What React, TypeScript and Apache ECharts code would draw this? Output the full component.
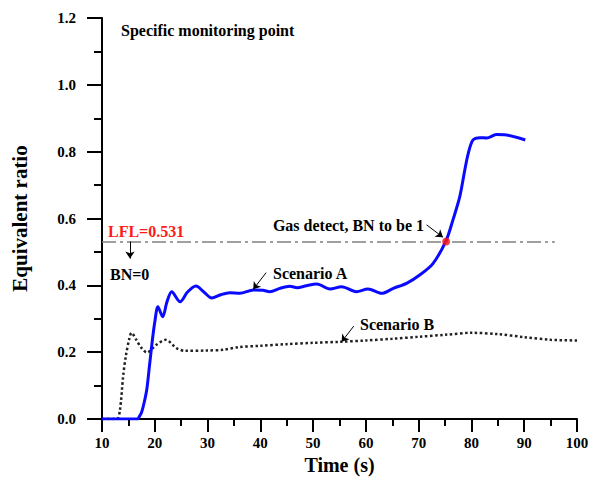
import React, { useEffect, useRef } from "react";
import * as echarts from "echarts";

const FONT = "Liberation Serif";

const scenarioAX = [10, 16.8, 17.0, 17.5, 18.0, 18.5, 19.0, 19.5, 20.0, 20.6, 21.5, 22.3, 23.2, 24.8, 26.2, 27.8, 29.3, 30.8, 32.5, 34.2, 36.1, 38.7, 40.5, 41.8, 43.7, 45.6, 47.0, 48.5, 50.7, 53.2, 55.4, 58.2, 60.4, 63.0, 65.2, 67.7, 70.2, 72.7, 75.2, 76.5, 77.8, 78.75, 79.4, 80.3, 81.6, 82.9, 84.7, 86.6, 90.2];
const scenarioAY = [0, 0, 0.005, 0.02, 0.05, 0.09, 0.16, 0.23, 0.29, 0.336, 0.306, 0.35, 0.381, 0.351, 0.38, 0.398, 0.38, 0.362, 0.372, 0.378, 0.376, 0.386, 0.385, 0.381, 0.391, 0.397, 0.393, 0.398, 0.404, 0.389, 0.396, 0.381, 0.389, 0.376, 0.391, 0.406, 0.431, 0.465, 0.534, 0.596, 0.666, 0.746, 0.795, 0.835, 0.842, 0.841, 0.851, 0.85, 0.835];

const scenarioBX = [10, 12.8, 13.4, 14.0, 14.5, 15.2, 15.6, 16.5, 17.5, 18.5, 20.3, 22.1, 24.1, 25.7, 29.8, 33, 35.8, 39.9, 45, 50, 55, 60, 65, 70, 75, 80, 85, 90, 95, 100];
const scenarioBY = [0, 0, 0.027, 0.127, 0.187, 0.242, 0.258, 0.237, 0.212, 0.199, 0.222, 0.237, 0.212, 0.204, 0.205, 0.207, 0.215, 0.219, 0.224, 0.228, 0.231, 0.235, 0.24, 0.246, 0.252, 0.258, 0.254, 0.245, 0.237, 0.235];

const LFL = 0.531;
const lflStartX = 10;
const lflEndX = 95.8;
const detectPoint = [75.2, 0.531];

// annotation arrows: [fromX, fromY, toX, toY] in data units
const arrows = [
  [15.3, 0.531, 15.3, 0.48],
  [71.5, 0.581, 74.6, 0.544],
  [41.1, 0.438, 38.65, 0.388],
  [57.7, 0.278, 55.4, 0.231],
];

const xTicks = [10, 20, 30, 40, 50, 60, 70, 80, 90, 100];
const yTicks = [0, 0.2, 0.4, 0.6, 0.8, 1.0, 1.2];

export default function App() {
  const ref = useRef<HTMLDivElement>(null);
  useEffect(() => {
    if (!ref.current) return;
    document.body.style.margin = "0";
    const chart = echarts.init(ref.current, null, { renderer: "svg" });
    const dataA = scenarioAX.map((x, i) => [x, scenarioAY[i]]);
    const dataB = scenarioBX.map((x, i) => [x, scenarioBY[i]]);
    const textStyle = (t: string, x: number, y: number, color = "#000", align = "left") => ({
      type: "text",
      x,
      y,
      style: {
        text: t,
        fill: color,
        font: `bold 16px "${FONT}"`,
        textAlign: align,
        textVerticalAlign: "middle",
      },
    });
    chart.setOption({
      animation: false,
      backgroundColor: "#fff",
      grid: { left: 102, right: 15, top: 18, bottom: 58, containLabel: false, outerBoundsMode: "none" },
      xAxis: {
        type: "value",
        min: xTicks[0],
        max: xTicks[xTicks.length - 1],
        interval: 10,
        name: "Time (s)",
        nameLocation: "middle",
        nameGap: 36,
        nameMoveOverlap: false,
        nameTextStyle: { fontFamily: FONT, fontWeight: "bold", fontSize: 20, color: "#000" },
        axisLine: { lineStyle: { color: "#000", width: 2 } },
        axisTick: { length: 13, lineStyle: { width: 2, color: "#000" } },
        minorTick: { show: true, splitNumber: 2, length: 7, lineStyle: { width: 2, color: "#000" } },
        axisLabel: { fontFamily: FONT, fontWeight: "bold", fontSize: 15, color: "#000", margin: 16 },
        splitLine: { show: false },
      },
      yAxis: {
        type: "value",
        min: yTicks[0],
        max: yTicks[yTicks.length - 1],
        interval: 0.2,
        name: "Equivalent ratio",
        nameLocation: "middle",
        nameGap: 72,
        nameTextStyle: { fontFamily: FONT, fontWeight: "bold", fontSize: 21, color: "#000" },
        axisLine: { lineStyle: { color: "#000", width: 2 } },
        axisTick: { length: 15, lineStyle: { width: 2, color: "#000" } },
        minorTick: { show: true, splitNumber: 2, length: 8, lineStyle: { width: 2, color: "#000" } },
        axisLabel: {
          fontFamily: FONT,
          fontWeight: "bold",
          fontSize: 15,
          color: "#000",
          margin: 26,
          formatter: (v: number) => v.toFixed(1),
        },
        splitLine: { show: false },
      },
      series: [
        {
          name: "Scenario B",
          type: "line",
          data: dataB,
          smooth: 0.3,
          showSymbol: false,
          lineStyle: { color: "#222", width: 2.5, type: "dotted" },
          z: 2,
        },
        {
          name: "Scenario A",
          type: "line",
          data: dataA,
          smooth: 0.3,
          showSymbol: false,
          lineStyle: { color: "#0a0aff", width: 3 },
          z: 3,
        },
        {
          name: "annotations",
          type: "scatter",
          data: [detectPoint],
          symbolSize: 8,
          itemStyle: { color: "#ff1010" },
          z: 5,
          markLine: {
            silent: true,
            animation: false,
            label: { show: false },
            symbol: ["none", "none"],
            data: [
              [
                { coord: [lflStartX, LFL], lineStyle: { color: "#808080", width: 1.5, type: [14, 4, 3, 4] } },
                { coord: [lflEndX, LFL] },
              ],
              ...arrows.map((a) => [
                { coord: [a[0], a[1]], symbol: "none", lineStyle: { color: "#000", width: 1, type: "solid" } },
                { coord: [a[2], a[3]], symbol: "arrow", symbolSize: 7 },
              ]),
            ],
          },
        },
      ],
      graphic: [
        textStyle("Specific monitoring point", 121, 30),
        textStyle("LFL=0.531", 108, 231, "#ff1a1a"),
        textStyle("BN=0", 110, 274),
        textStyle("Gas detect, BN to be 1", 424, 225, "#000", "right"),
        textStyle("Scenario A", 273, 273),
        textStyle("Scenario B", 360, 324),
      ],
    });
    return () => chart.dispose();
  }, []);
  return <div ref={ref} style={{ width: 592, height: 477 }} />;
}
